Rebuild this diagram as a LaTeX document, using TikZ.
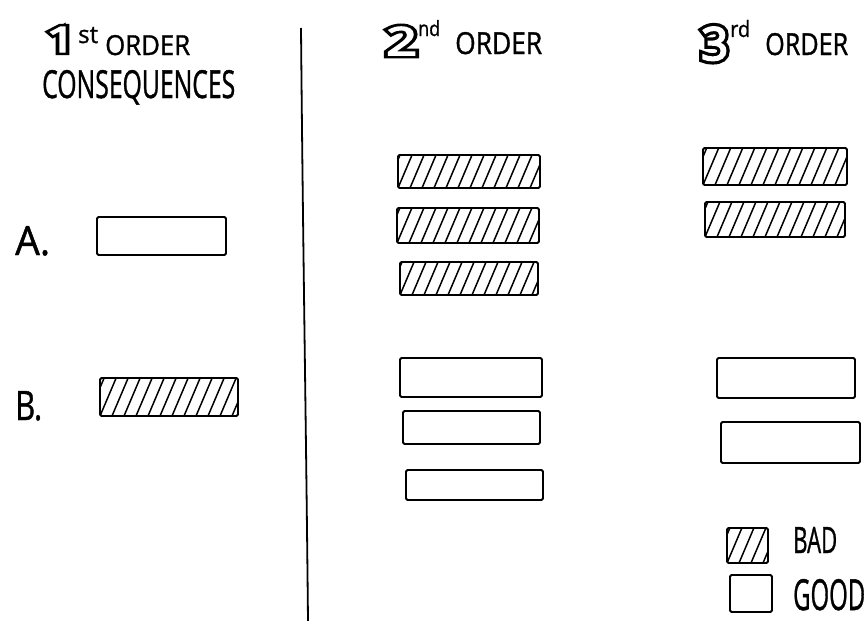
\documentclass[tikz,border=0pt]{standalone}
\usepackage{fontspec}
\usepackage{graphicx}
\newfontfamily\hand[FakeBold=1.2]{Open Sans}
\newfontfamily\handthick[FakeBold=18]{Open Sans}
\newfontfamily\handthin[FakeBold=4]{Open Sans}
\newcommand\outl[1]{\rlap{\handthick #1}{\handthin\color{white}#1}}
\tikzset{
  box/.style={draw, line width=1.8pt, inner sep=0pt, rounded corners=1.5pt},
  hatchbox/.style={box, path picture={
    \foreach \k in {-3,...,15}{
      \draw[line width=1.5pt] ([xshift=\k*12pt]path picture bounding box.south west) -- ++(17pt,40pt);
    }}},
  lbl/.style={anchor=base west, inner sep=0pt, font=\hand}
}
\begin{document}
\begin{tikzpicture}[x=1pt,y=-1pt]
\useasboundingbox (0,0) rectangle (868,621);
% headings
\node[lbl] (n1) at (46,52) {\resizebox{30pt}{25pt}{\outl{1}}};
\node[lbl] (s1) at (78,43) {\resizebox{20pt}{16pt}{st}};
\node[lbl] (o1) at (105,55) {\resizebox{85pt}{20pt}{ORDER}};
\node[lbl] (c1) at (42,98) {\resizebox{193pt}{28pt}{CONSEQUENCES}};
\node[lbl] (n2) at (386,55) {\resizebox{31pt}{28pt}{\outl{2}}};
\node[lbl] (s2) at (418,36) {\resizebox{22pt}{16pt}{nd}};
\node[lbl] (o2) at (455,54) {\resizebox{87pt}{22pt}{ORDER}};
\node[lbl] (n3) at (701,60) {\resizebox{27pt}{33pt}{\outl{3}}};
\node[lbl] (s3) at (730,37) {\resizebox{20pt}{17pt}{rd}};
\node[lbl] (o3) at (765,55) {\resizebox{83pt}{22pt}{ORDER}};
% divider
\coordinate (d1) at (301,28);
\coordinate (d2) at (308,621);
\draw[line width=1.8pt] (d1) .. controls (303,250) and (306,420) .. (d2);
% first order
\node[lbl] (la) at (15,255) {\resizebox{35pt}{29pt}{A.}};
\node[lbl] (lb) at (15,420) {\resizebox{27pt}{29pt}{B.}};
\node[box, minimum width=129pt, minimum height=38pt] (A) at (161.5,236) {};
\node[hatchbox, minimum width=138pt, minimum height=38pt] (B) at (169,397) {};
% second order
\node[hatchbox, minimum width=142pt, minimum height=33pt] (h21) at (469,171.5) {};
\node[hatchbox, minimum width=142pt, minimum height=35pt] (h22) at (468,225.5) {};
\node[hatchbox, minimum width=138pt, minimum height=33pt] (h23) at (469,278.5) {};
\node[box, minimum width=142pt, minimum height=39pt] (g21) at (471,377.5) {};
\node[box, minimum width=137pt, minimum height=33pt] (g22) at (471.5,427.5) {};
\node[box, minimum width=137pt, minimum height=30pt] (g23) at (474.5,485) {};
% third order
\node[hatchbox, minimum width=144pt, minimum height=37pt] (h31) at (775,166.5) {};
\node[hatchbox, minimum width=140pt, minimum height=35pt] (h32) at (775,219.5) {};
\node[box, minimum width=138pt, minimum height=40pt] (g31) at (786,378) {};
\node[box, minimum width=139pt, minimum height=41pt] (g32) at (790.5,442.5) {};
% legend
\node[hatchbox, minimum width=41pt, minimum height=35pt] (kb) at (747.5,545.5) {};
\node[box, minimum width=42pt, minimum height=37pt] (kg) at (751,593.5) {};
\node[lbl] (tb) at (793,553) {\resizebox{44pt}{26pt}{BAD}};
\node[lbl] (tg) at (793,610) {\resizebox{72pt}{31pt}{GOOD}};
\end{tikzpicture}
\end{document}
